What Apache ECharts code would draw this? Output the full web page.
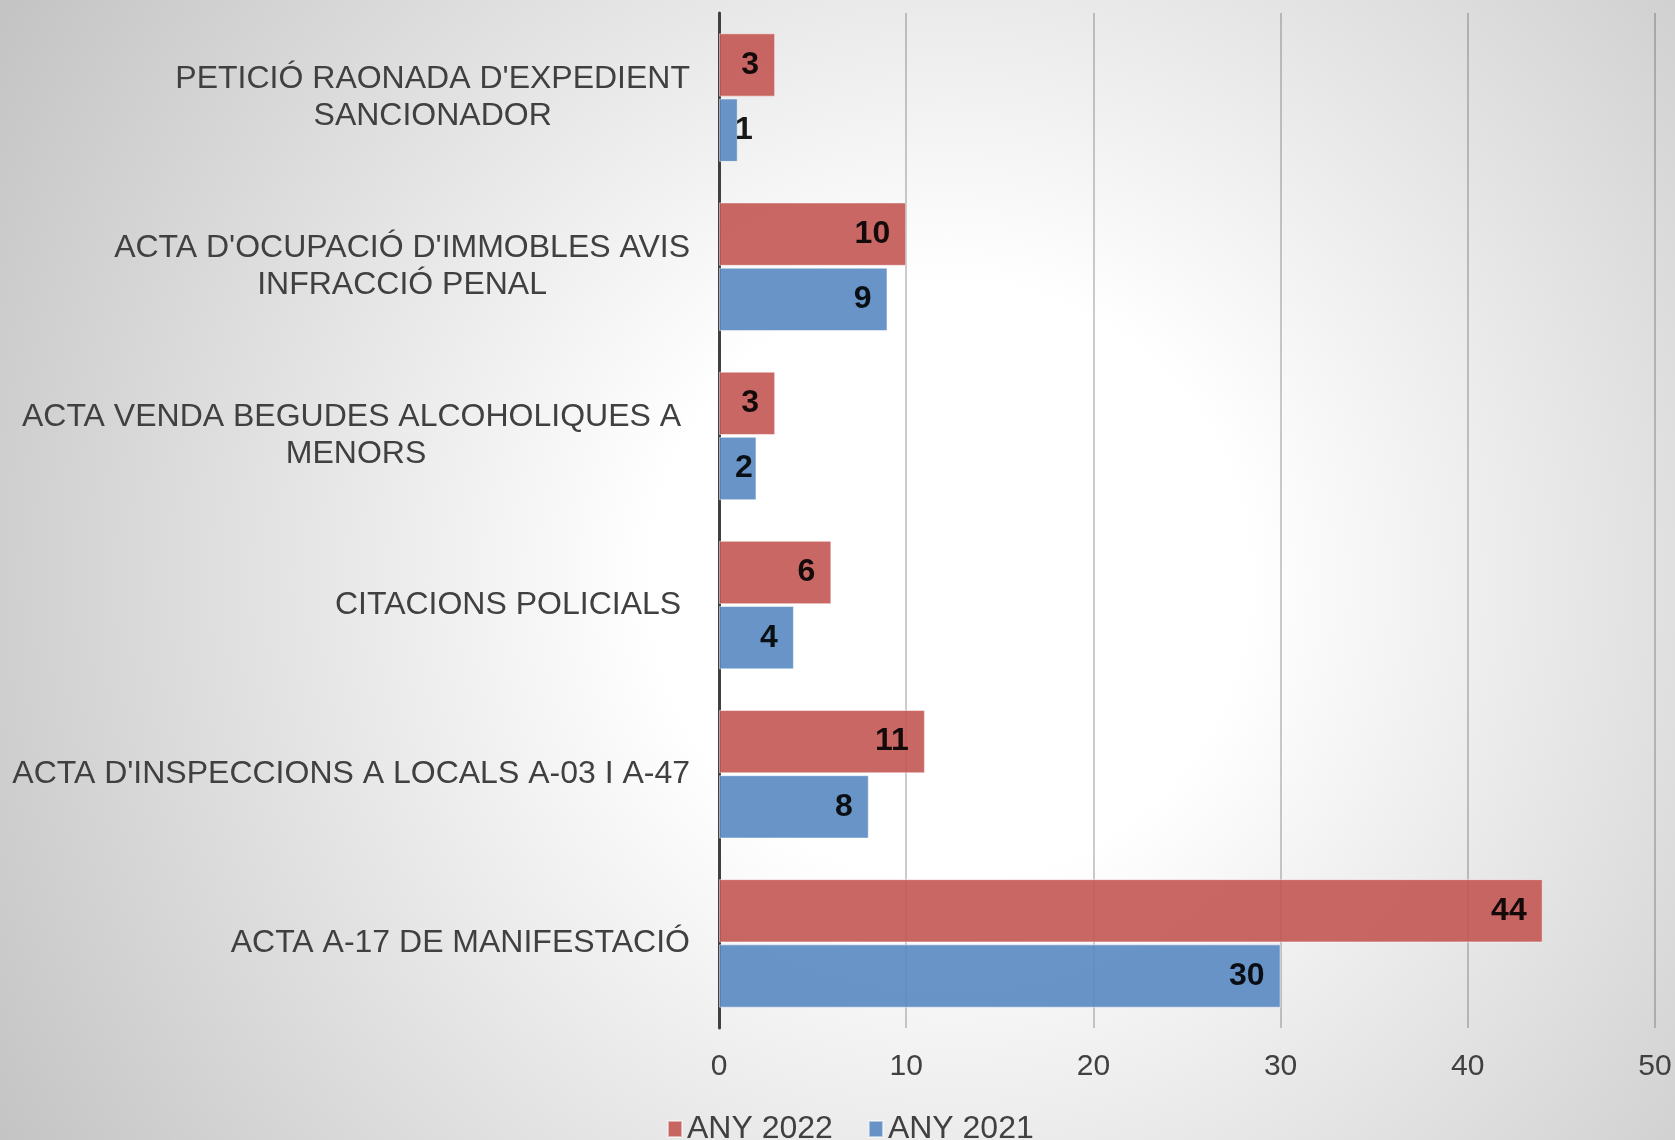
<!DOCTYPE html>
<html>
<head>
<meta charset="utf-8">
<script src="https://cdn.jsdelivr.net/npm/echarts@6/dist/echarts.min.js"></script>
<style>
html,body{margin:0;padding:0;}
#chart{width:1675px;height:1140px;}
</style>
</head>
<body>
<div id="chart"></div>
<script>
const categories = [
  "PETICIÓ RAONADA D'EXPEDIENT\nSANCIONADOR",
  "ACTA D'OCUPACIÓ D'IMMOBLES AVIS\nINFRACCIÓ PENAL",
  "ACTA VENDA BEGUDES ALCOHOLIQUES A \nMENORS",
  "CITACIONS POLICIALS ",
  "ACTA D'INSPECCIONS A LOCALS A-03 I A-47",
  "ACTA A-17 DE MANIFESTACIÓ"
];
const seriesNames = ["ANY 2022", "ANY 2021"];
const values2022 = [3, 10, 3, 6, 11, 44];
const values2021 = [1, 9, 2, 4, 8, 30];
const xTicks = [0, 10, 20, 30, 40, 50];

const FONT = "'Liberation Sans', Arial, sans-serif";

function items(vals) {
  return vals.map(v => v <= 2
    ? { value: v, label: { position: 'insideLeft', distance: 16 } }
    : { value: v });
}

const chart = echarts.init(document.getElementById('chart'), null, { renderer: 'canvas' });
chart.setOption({
  animation: false,
  backgroundColor: new echarts.graphic.RadialGradient(0.567, 0.51, 0.965, [
    { offset: 0, color: '#ffffff' },
    { offset: 0.27, color: '#ffffff' },
    { offset: 1, color: '#c4c4c4' }
  ]),
  textStyle: { fontFamily: FONT },
  grid: { left: 719, right: 20, top: 13, bottom: 112, containLabel: false, outerBoundsMode: 'none' },
  legend: {
    data: seriesNames,
    left: 662,
    top: 1108,
    icon: 'rect',
    itemWidth: 14,
    itemHeight: 16,
    itemGap: 35,
    textStyle: { fontSize: 32, color: '#404040', fontFamily: FONT }
  },
  xAxis: {
    type: 'value',
    min: xTicks[0],
    max: xTicks[xTicks.length - 1],
    interval: xTicks[1] - xTicks[0],
    axisLine: { show: false },
    axisTick: { show: false },
    splitLine: { show: true, lineStyle: { color: 'rgba(0,0,0,0.27)', width: 1.5 } },
    axisLabel: { fontSize: 30, color: '#404040', margin: 24, fontFamily: FONT }
  },
  yAxis: {
    type: 'category',
    inverse: true,
    data: categories,
    axisTick: { show: false },
    axisLine: { show: true, lineStyle: { color: '#404040', width: 3 } },
    axisLabel: {
      margin: 29,
      formatter: function (val) {
        return val.split('\n').map(l => '{c|' + l + '}').join('\n');
      },
      rich: {
        c: { align: 'center', fontSize: 32, lineHeight: 37, color: '#404040', fontFamily: FONT }
      }
    }
  },
  series: [
    {
      name: seriesNames[0],
      type: 'bar',
      data: items(values2022),
      barGap: '3%',
      barCategoryGap: '24%',
      itemStyle: { color: '#c35653', opacity: 0.9, borderColor: 'rgba(255,255,255,0.55)', borderWidth: 1 },
      label: { show: true, position: 'insideRight', distance: 16, fontSize: 32, fontWeight: 'bold', color: '#000', fontFamily: FONT }
    },
    {
      name: seriesNames[1],
      type: 'bar',
      data: items(values2021),
      barGap: '3%',
      barCategoryGap: '24%',
      itemStyle: { color: '#5888c1', opacity: 0.9, borderColor: 'rgba(255,255,255,0.55)', borderWidth: 1 },
      label: { show: true, position: 'insideRight', distance: 16, fontSize: 32, fontWeight: 'bold', color: '#000', fontFamily: FONT }
    }
  ]
});
</script>
</body>
</html>
